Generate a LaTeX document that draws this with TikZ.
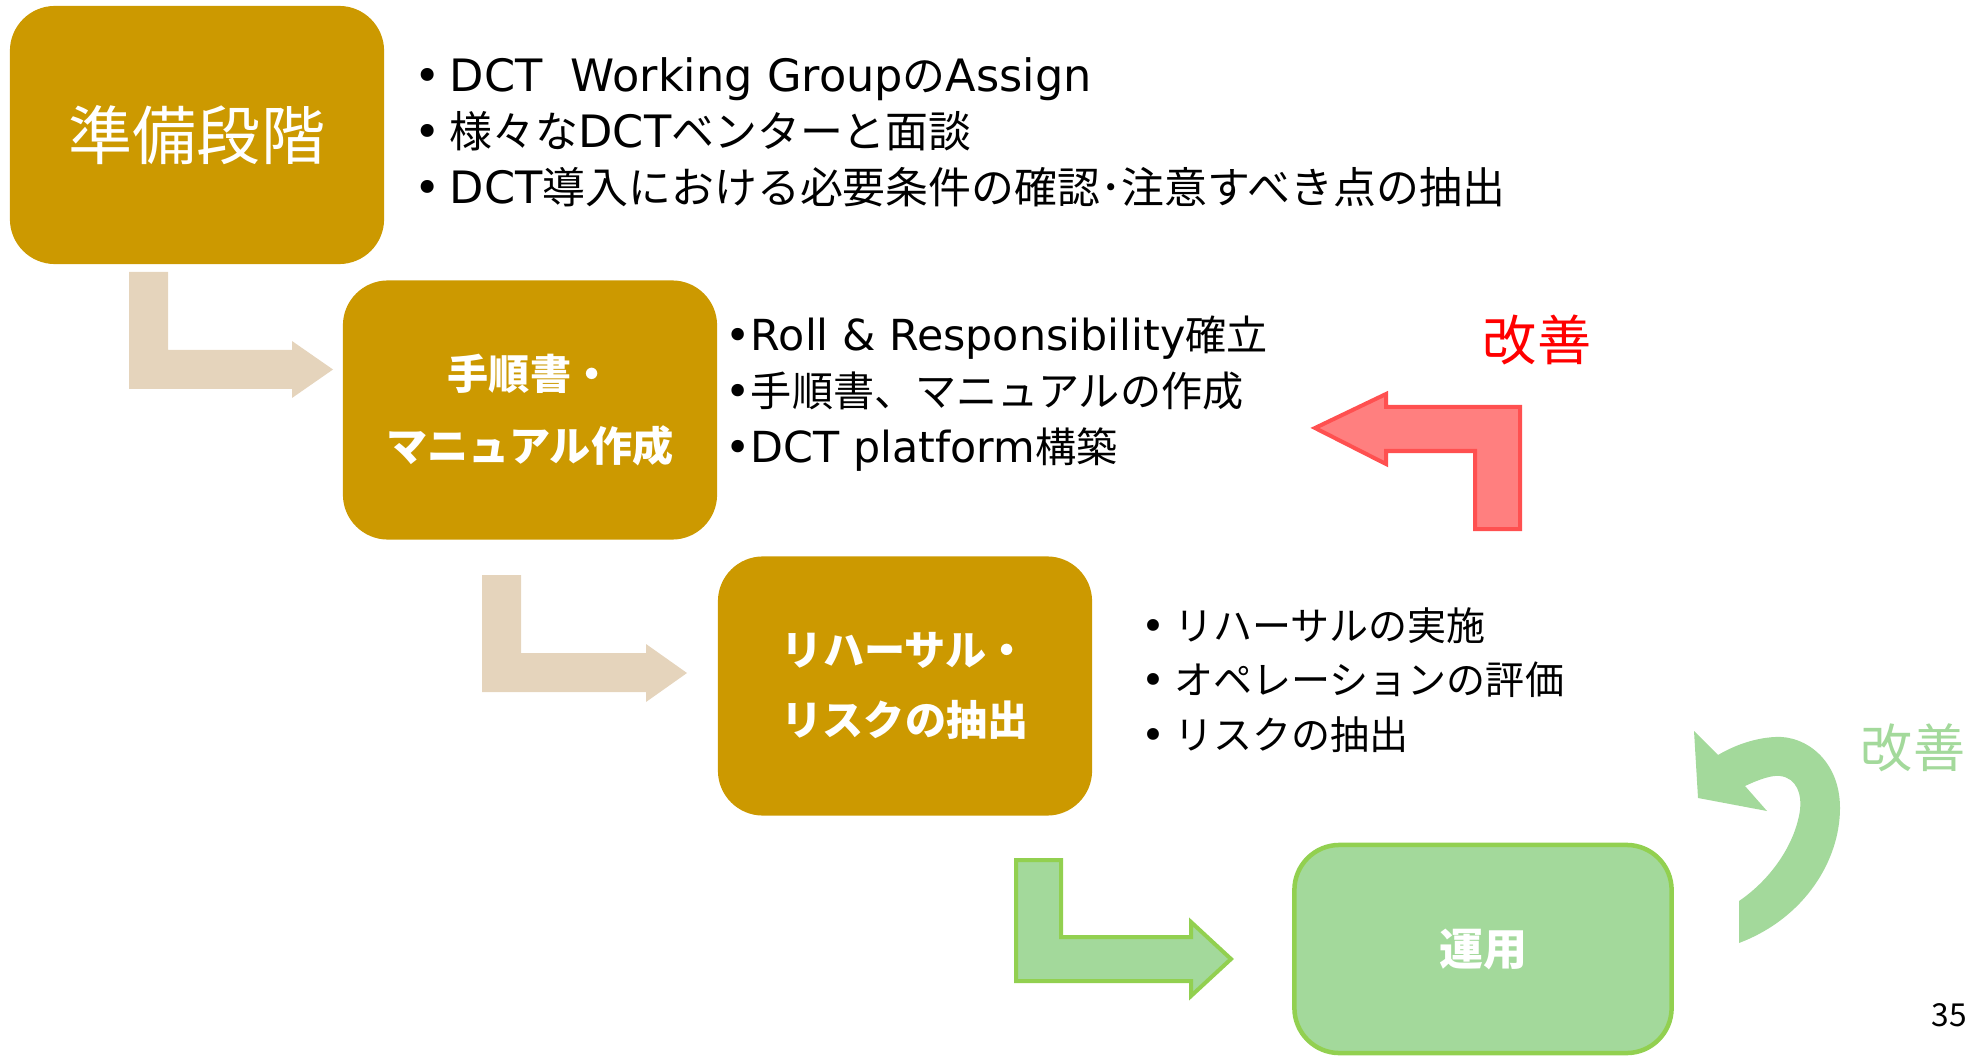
\documentclass[tikz,border=0pt]{standalone}
\usepackage{fontspec}
\setmainfont{Noto Sans CJK JP}
\newfontfamily\lat{DejaVu Sans}[Scale=1.04]
\usepackage{xcolor}
\usepackage{tikz}

\definecolor{gold}{HTML}{CC9900}
\definecolor{beige}{HTML}{E5D4BC}
\definecolor{lgreen}{HTML}{A3D99B}
\definecolor{dgreen}{HTML}{92D050}
\definecolor{lred}{HTML}{FF7F7F}
\definecolor{dred}{HTML}{FF5050}

\newcommand{\bul}{{\lat •}}
\newcommand{\bulsp}{\bul\hspace{2.5pt}}

\begin{document}
\begin{tikzpicture}[x=0.01cm,y=-0.01cm,inner sep=0pt,
        box/.style={rounded corners=0.45cm,fill=gold,text=white,align=center,minimum width=3.74cm,minimum height=2.59cm},
        notes/.style={anchor=west,align=left,text=black},
        bentarrow/.style={fill=beige},
        greenarrow/.style={fill=lgreen,draw=dgreen,line width=0.04cm}]
                \useasboundingbox (0,0) rectangle (1988,1058);
                \node[box,minimum height=2.58cm,font=\fontsize{18.2}{22}\selectfont] (prep) at (197,135) {準備段階};
                \node[box,font=\bfseries\fontsize{11.7}{20.5}\selectfont] (manual) at (530,410) {手順書・\\マニュアル作成};
                \node[box,font=\bfseries\fontsize{11.7}{19.9}\selectfont] (rehearsal) at (905,686) {リハーサル・\\リスクの抽出};
                \node[box,fill=lgreen,draw=dgreen,line width=0.045cm,minimum width=3.77cm,minimum height=2.08cm,
                      font=\bfseries\fontsize{12.5}{15}\selectfont] (ops) at (1483,949) {運用};
                % bullet lists
                \node[notes,font=\fontsize{12.2}{15.9}\selectfont] (prepnotes) at (414,132)
                    {\bulsp{\lat DCT\ \ Working Group}の{\lat Assign}\\\bulsp 様々な{\lat DCT}ベンターと面談\\\bulsp{\lat DCT}導入における必要条件の確認･注意すべき点の抽出};
                \node[notes,font=\fontsize{11.7}{15.9}\selectfont] (manualnotes) at (725,394)
                    {\bul{\lat Roll \& Responsibility}確立\\\bul 手順書、マニュアルの作成\\\bul{\lat DCT platform}構築};
                \node[notes,font=\fontsize{11.1}{15.4}\selectfont] (rehearsalnotes) at (1141,680)
                    {\bulsp リハーサルの実施\\\bulsp オペレーションの評価\\\bulsp リスクの抽出};
                \node[text=red,font=\fontsize{15.4}{18}\selectfont] (kaizen1) at (1537,340) {改善};
                \node[text=lgreen,font=\fontsize{14.8}{18}\selectfont] (kaizen2) at (1913,748) {改善};
                \node[font=\fontsize{9}{11}\selectfont] (page) at (1949,1015) {35};
                % step arrows
                \fill[bentarrow] (129,272) -- (168,272) -- (168,350) -- (292,350) -- (292,341) -- (333,369.5)
                    -- (292,398) -- (292,389) -- (129,389) -- cycle;
                \fill[bentarrow] (482,575) -- (521,575) -- (521,653) -- (646,653) -- (646,644) -- (687,673)
                    -- (646,702) -- (646,692) -- (482,692) -- cycle;
                \draw[greenarrow] (1016,860) -- (1061,860) -- (1061,937) -- (1191,937) -- (1191,922) -- (1231,959)
                    -- (1191,996) -- (1191,981) -- (1016,981) -- cycle;
                % feedback arrows
                \draw[fill=lred,draw=dred,line width=0.04cm] (1315,428) -- (1386,394) -- (1386,407) -- (1520,407)
                    -- (1520,529) -- (1475,529) -- (1475,451) -- (1386,451) -- (1386,464) -- cycle;
                \fill[lgreen] (1739,943) .. controls (1805,918) and (1840,860) .. (1840,808)
                    .. controls (1840,760) and (1805,735) .. (1775,737)
                    .. controls (1755,738) and (1735,745) .. (1718,755)
                    -- (1694,731) -- (1698,798) -- (1767,811) -- (1745,786)
                    .. controls (1760,779) and (1772,775) .. (1780,776)
                    .. controls (1797,778) and (1802,795) .. (1800,810)
                    .. controls (1795,845) and (1770,880) .. (1739,901) -- cycle;
            \end{tikzpicture}
\end{document}
